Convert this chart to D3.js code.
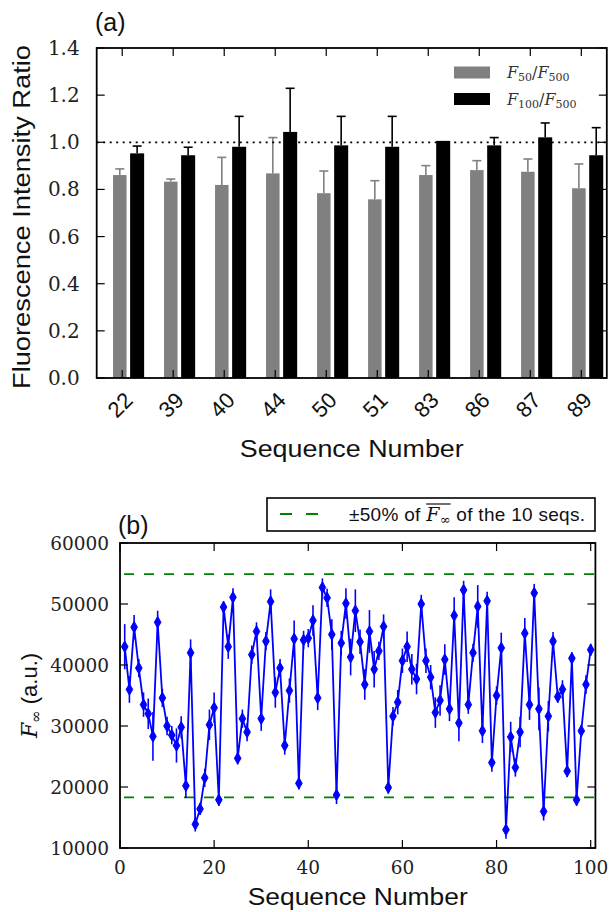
<!DOCTYPE html>
<html><head><meta charset="utf-8">
<script src="https://cdn.jsdelivr.net/npm/d3@7"></script>
<style>
body{margin:0;background:#fff;}
svg{display:block;}
.sans{font-family:"Liberation Sans",Arial,Helvetica,sans-serif;}
.serif{font-family:"DejaVu Serif","Liberation Serif",serif;}
</style></head>
<body>
<svg id="chart" width="609" height="912"></svg>
<script>
// ---------- Panel (a) data ----------
const categories = ["22","39","40","44","50","51","83","86","87","89"];
const ratio50  = [0.861,0.833,0.819,0.868,0.784,0.758,0.861,0.882,0.875,0.805];
const err50    = [0.026,0.011,0.117,0.152,0.094,0.079,0.040,0.040,0.054,0.103];
const ratio100 = [0.953,0.945,0.981,1.044,0.987,0.981,1.006,0.987,1.021,0.945];
const err100   = [0.031,0.034,0.129,0.185,0.123,0.129,0.000,0.033,0.061,0.117];
const yTicksA  = [0.0,0.2,0.4,0.6,0.8,1.0,1.2,1.4];

// ---------- Panel (b) data ----------
const seqNumbers = d3.range(1, 101);
const fInf = [43000,36000,46200,39500,33500,32000,28300,47000,34600,30000,
              28500,26800,29800,20200,42000,13900,16400,21500,30200,33000,
              17900,49500,43000,51100,24700,31200,29000,41700,45500,31200,
              43900,50400,35500,39500,26800,35800,44300,20600,44100,44400,
              47300,34600,52700,51000,45000,18700,43600,50100,41300,48900,
              43800,36800,45500,39300,42300,46300,19900,31600,33900,40700,
              43000,39300,37700,50000,40700,38000,32200,34200,40900,32800,
              48100,30500,52300,33500,42000,49600,29200,50500,24000,35000,
              42800,13000,28200,23200,29000,45200,33500,51800,32800,16000,
              31600,43900,34800,36000,22600,41100,17900,29200,36800,42500];
const fErr = [3700,2200,2000,1500,2000,2500,4000,1900,1500,1500,
              1500,2800,1800,2000,2200,1200,1000,1500,2500,2500,
              1000,1000,2000,1500,1000,1500,1500,1500,1500,2000,
              1500,2000,2500,1500,1500,2000,3000,1000,1500,1500,
              2500,2000,1500,1500,2500,1500,2000,2500,3000,3500,
              2000,2500,3500,3000,1500,2000,1000,1500,2000,2000,
              2500,2500,2500,1500,2000,2000,2500,2500,2500,2000,
              3000,3000,1500,1500,1500,3500,2000,1500,1500,1500,
              2500,1500,2500,1500,2500,2500,2500,1500,3500,1500,
              2500,1500,1000,1500,1000,1000,1000,1000,1500,1000];
const meanF = 36600;
const bandLevels = [0.5 * meanF, 1.5 * meanF];
const xTicksB = [0,20,40,60,80,100];
const yTicksB = [10000,20000,30000,40000,50000,60000];

const svg = d3.select("#chart");
svg.append("rect").attr("width",609).attr("height",912).attr("fill","#fff");

const GRAY = "#808080", BLUE = "#0000ff", GREEN = "#008000";
const TICK = 8;

// ================= Panel (a) =================
const A = {l:96.7, r:606.8, t:48, b:378};
const xA = d3.scaleLinear().domain([-0.5, 9.5]).range([A.l, A.r]);
const yA = d3.scaleLinear().domain([0, 1.4]).range([A.b, A.t]);
const gA = svg.append("g");

const idx = categories.map((c,i)=>i);
const off50 = [-0.18, 0.085], off100 = [0.155, 0.43];

gA.selectAll(".b50").data(idx).join("rect")
  .attr("x", i=>xA(i+off50[0])).attr("width", i=>xA(i+off50[1])-xA(i+off50[0]))
  .attr("y", i=>yA(ratio50[i])).attr("height", i=>yA(0)-yA(ratio50[i]))
  .attr("fill", GRAY);
gA.selectAll(".b100").data(idx).join("rect")
  .attr("x", i=>xA(i+off100[0])).attr("width", i=>xA(i+off100[1])-xA(i+off100[0]))
  .attr("y", i=>yA(ratio100[i])).attr("height", i=>yA(0)-yA(ratio100[i]))
  .attr("fill", "#000");

function errBar(g, cx, v, e, color){
  if (e <= 0) return;
  g.append("line").attr("x1",cx).attr("x2",cx).attr("y1",yA(v)).attr("y2",yA(v+e))
    .attr("stroke",color).attr("stroke-width",1.6);
  g.append("line").attr("x1",cx-4.5).attr("x2",cx+4.5).attr("y1",yA(v+e)).attr("y2",yA(v+e))
    .attr("stroke",color).attr("stroke-width",1.6);
}
idx.forEach(i=>{
  errBar(gA, xA(i+(off50[0]+off50[1])/2), ratio50[i], err50[i], GRAY);
  errBar(gA, xA(i+(off100[0]+off100[1])/2), ratio100[i], err100[i], "#000");
});

gA.append("line").attr("x1",A.l).attr("x2",A.r).attr("y1",yA(1)).attr("y2",yA(1))
  .attr("stroke","#000").attr("stroke-width",1.8).attr("stroke-dasharray","2,4.5");

gA.append("rect").attr("x",A.l).attr("y",A.t).attr("width",A.r-A.l).attr("height",A.b-A.t)
  .attr("fill","none").attr("stroke","#000").attr("stroke-width",1.8);

yTicksA.forEach(v=>{
  gA.append("line").attr("x1",A.l).attr("x2",A.l+TICK).attr("y1",yA(v)).attr("y2",yA(v)).attr("stroke","#000").attr("stroke-width",1.2);
  gA.append("line").attr("x1",A.r).attr("x2",A.r-TICK).attr("y1",yA(v)).attr("y2",yA(v)).attr("stroke","#000").attr("stroke-width",1.2);
  gA.append("text").attr("class","serif").attr("x",A.l-17).attr("y",yA(v)+7)
    .attr("text-anchor","end").attr("font-size",20).attr("fill","#222").text(v.toFixed(1));
});
idx.forEach(i=>{
  const x = xA(i);
  gA.append("line").attr("x1",x).attr("x2",x).attr("y1",A.t).attr("y2",A.t+TICK).attr("stroke","#000").attr("stroke-width",1.2);
  gA.append("line").attr("x1",x).attr("x2",x).attr("y1",A.b).attr("y2",A.b-TICK).attr("stroke","#000").attr("stroke-width",1.2);
  gA.append("text").attr("class","sans").attr("font-size",22).attr("fill","#111")
    .attr("text-anchor","middle").attr("dominant-baseline","central")
    .attr("transform",`translate(${x-2},405) rotate(-45)`).text(categories[i]);
});

gA.append("text").attr("class","sans").attr("x",(A.l+A.r)/2).attr("y",457)
  .attr("text-anchor","middle").attr("font-size",23).attr("fill","#111")
  .attr("textLength",224).attr("lengthAdjust","spacingAndGlyphs").text("Sequence Number");
gA.append("text").attr("class","sans").attr("transform",`translate(30,${(A.t+A.b)/2+4}) rotate(-90)`)
  .attr("text-anchor","middle").attr("font-size",23).attr("fill","#111")
  .attr("textLength",344).attr("lengthAdjust","spacingAndGlyphs").text("Fluorescence Intensity Ratio");
gA.append("text").attr("class","sans").attr("x",95).attr("y",31).attr("font-size",25).attr("fill","#111").text("(a)");

const legA = [{c:GRAY, top:"50"},{c:"#000", top:"100"}];
legA.forEach((d,k)=>{
  const cy = 72.5 + k*26.5;
  gA.append("rect").attr("x",454).attr("y",cy-6).attr("width",36).attr("height",12).attr("fill",d.c);
  const t = gA.append("text").attr("class","serif").attr("x",507).attr("y",cy+5.5).attr("font-size",16).attr("fill","#333");
  t.append("tspan").attr("font-style","italic").text("F");
  t.append("tspan").attr("font-size",11).attr("dy",3).text(d.top);
  t.append("tspan").attr("dy",-3).text("/");
  t.append("tspan").attr("font-style","italic").text("F");
  t.append("tspan").attr("font-size",11).attr("dy",3).text("500");
});

// ================= Panel (b) =================
const B = {l:120, r:595.4, t:543, b:848};
const xB = d3.scaleLinear().domain([0, 101]).range([B.l, B.r]);
const yB = d3.scaleLinear().domain([10000, 60000]).range([B.b, B.t]);
const gB = svg.append("g");

bandLevels.forEach(v=>{
  gB.append("line").attr("x1",B.l).attr("x2",B.r).attr("y1",yB(v)).attr("y2",yB(v))
    .attr("stroke",GREEN).attr("stroke-width",1.8).attr("stroke-dasharray","10,10").attr("stroke-dashoffset",-4);
});

gB.selectAll(".eb").data(seqNumbers).join("line")
  .attr("x1",(s)=>xB(s)).attr("x2",(s)=>xB(s))
  .attr("y1",(s,i)=>yB(fInf[i]-fErr[i])).attr("y2",(s,i)=>yB(fInf[i]+fErr[i]))
  .attr("stroke",BLUE).attr("stroke-width",1.6);

const line = d3.line().x((s)=>xB(s)).y((s,i)=>yB(fInf[i]));
gB.append("path").datum(seqNumbers).attr("d",line).attr("fill","none")
  .attr("stroke",BLUE).attr("stroke-width",1.8);

const diamond = d3.symbol().type(d3.symbolDiamond).size(38);
gB.selectAll(".mk").data(seqNumbers).join("path")
  .attr("d",diamond).attr("transform",(s,i)=>`translate(${xB(s)},${yB(fInf[i])})`)
  .attr("fill",BLUE).attr("stroke",BLUE).attr("stroke-width",1);

gB.append("rect").attr("x",B.l).attr("y",B.t).attr("width",B.r-B.l).attr("height",B.b-B.t)
  .attr("fill","none").attr("stroke","#000").attr("stroke-width",1.8);

yTicksB.forEach(v=>{
  gB.append("line").attr("x1",B.l).attr("x2",B.l+TICK).attr("y1",yB(v)).attr("y2",yB(v)).attr("stroke","#000").attr("stroke-width",1.2);
  gB.append("line").attr("x1",B.r).attr("x2",B.r-TICK).attr("y1",yB(v)).attr("y2",yB(v)).attr("stroke","#000").attr("stroke-width",1.2);
  gB.append("text").attr("class","serif").attr("x",B.l-11).attr("y",yB(v)+6.5)
    .attr("text-anchor","end").attr("font-size",18.5).attr("fill","#222").text(String(v));
});
xTicksB.forEach(v=>{
  gB.append("line").attr("x1",xB(v)).attr("x2",xB(v)).attr("y1",B.t).attr("y2",B.t+TICK).attr("stroke","#000").attr("stroke-width",1.2);
  gB.append("line").attr("x1",xB(v)).attr("x2",xB(v)).attr("y1",B.b).attr("y2",B.b-TICK).attr("stroke","#000").attr("stroke-width",1.2);
  gB.append("text").attr("class","serif").attr("x",xB(v)).attr("y",874)
    .attr("text-anchor","middle").attr("font-size",18.5).attr("fill","#222").text(String(v));
});

gB.append("text").attr("class","sans").attr("x",(B.l+B.r)/2).attr("y",905)
  .attr("text-anchor","middle").attr("font-size",23).attr("fill","#111")
  .attr("textLength",220).attr("lengthAdjust","spacingAndGlyphs").text("Sequence Number");
const yt = gB.append("text").attr("transform",`translate(37,${(B.t+B.b)/2}) rotate(-90)`)
  .attr("text-anchor","middle").attr("font-size",22).attr("fill","#111");
yt.append("tspan").attr("class","serif").attr("font-style","italic").text("F");
yt.append("tspan").attr("class","serif").attr("font-size",15).attr("dy",4).text("∞");
yt.append("tspan").attr("class","sans").attr("dy",-4).text(" (a.u.)");
gB.append("text").attr("class","sans").attr("x",118).attr("y",534).attr("font-size",25).attr("fill","#111").text("(b)");

// legend (b)
gB.append("rect").attr("x",267).attr("y",498).attr("width",328).attr("height",33)
  .attr("fill","#fff").attr("stroke","#000").attr("stroke-width",1.6);
gB.append("line").attr("x1",280).attr("x2",320).attr("y1",514).attr("y2",514)
  .attr("stroke",GREEN).attr("stroke-width",1.8).attr("stroke-dasharray","12,14");
const lt = gB.append("text").attr("x",349).attr("y",521).attr("font-size",19).attr("fill","#111")
  .attr("textLength",236).attr("lengthAdjust","spacing");
lt.append("tspan").attr("class","sans").text("±50% of ");
const fT = lt.append("tspan").attr("class","serif").attr("font-style","italic").text("F");
lt.append("tspan").attr("class","serif").attr("font-size",13).attr("dy",3).text("∞");
lt.append("tspan").attr("class","sans").attr("dy",-3).text(" of the 10 seqs.");
// overline above F∞
const ext0 = lt.node().getExtentOfChar(8), ext1 = lt.node().getExtentOfChar(9);
gB.append("line").attr("x1",ext0.x).attr("x2",ext1.x+ext1.width).attr("y1",ext0.y+1).attr("y2",ext0.y+1)
  .attr("stroke","#111").attr("stroke-width",1.2);
</script>
</body></html>
